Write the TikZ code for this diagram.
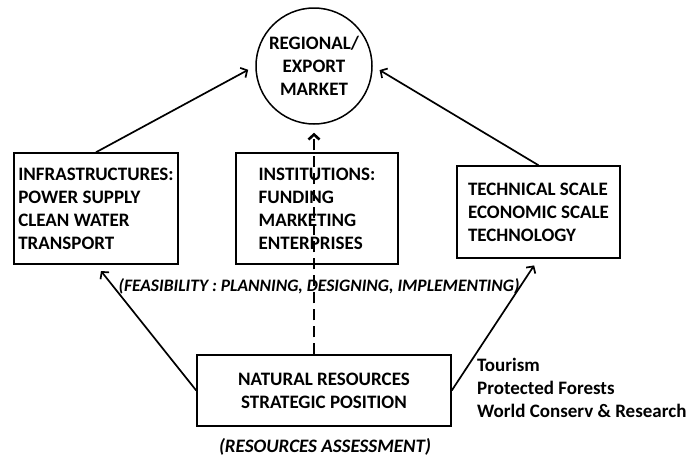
\documentclass[tikz,border=0pt]{standalone}
\usepackage{fontspec}
\setmainfont{Carlito}
\usetikzlibrary{arrows.meta}
\newcommand{\testo}{\fontsize{19}{23}\selectfont\bfseries}
\tikzset{
>={Straight Barb[length=5pt,width=11pt]},
box/.style={draw,line width=1.5pt,align=left,font=\testo,inner sep=2pt},
freccia/.style={->,line width=1.7pt,shorten >=8pt},
tratteggio/.style={->,line width=2.6pt,dash pattern=on 11pt off 6pt,shorten >=8pt}}

\begin{document}
\begin{tikzpicture}[x=1pt,y=-1pt]

\useasboundingbox (0,0) rectangle (693,458);

\node[box,circle,minimum size=116pt,align=center] (mkt) at (314,66) {REGIONAL/\\EXPORT\\MARKET};
\node[box,minimum width=164pt,minimum height=111pt] (infra) at (96,208.5)
	{INFRASTRUCTURES:\\POWER SUPPLY\\CLEAN WATER\\TRANSPORT};
\node[box,minimum width=162pt,minimum height=111pt] (inst) at (317,208.5)
	{INSTITUTIONS:\\FUNDING\\MARKETING\\ENTERPRISES};
\node[box,minimum width=163pt,minimum height=92pt] (tech) at (538.5,212)
	{TECHNICAL SCALE\\ECONOMIC SCALE\\TECHNOLOGY};
\node[box,minimum width=254pt,minimum height=71pt,align=center] (nat) at (324,390.5)
	{NATURAL RESOURCES\\STRATEGIC POSITION};

\node[font=\fontsize{17.5}{20}\selectfont\bfseries\itshape] (feas) at (319,286)
	{(FEASIBILITY : PLANNING, DESIGNING, IMPLEMENTING)};
\node[font=\testo\itshape] (assess) at (325,447)
	{(RESOURCES ASSESSMENT)};
\node[anchor=north west,align=left,font=\testo,inner sep=0pt] (uses) at (477,358)
	{Tourism\\Protected Forests\\World Conserv \& Research};

\draw[freccia] (infra.north) -- (mkt.west);
\draw[freccia] (tech.north) -- (mkt.east);
\draw[freccia] (nat.west) -- (infra.south);
\draw[freccia] (nat.east) -- (tech.south);
\draw[tratteggio] (mkt.south |- nat.north) -- (mkt.south);
\end{tikzpicture}
\end{document}
